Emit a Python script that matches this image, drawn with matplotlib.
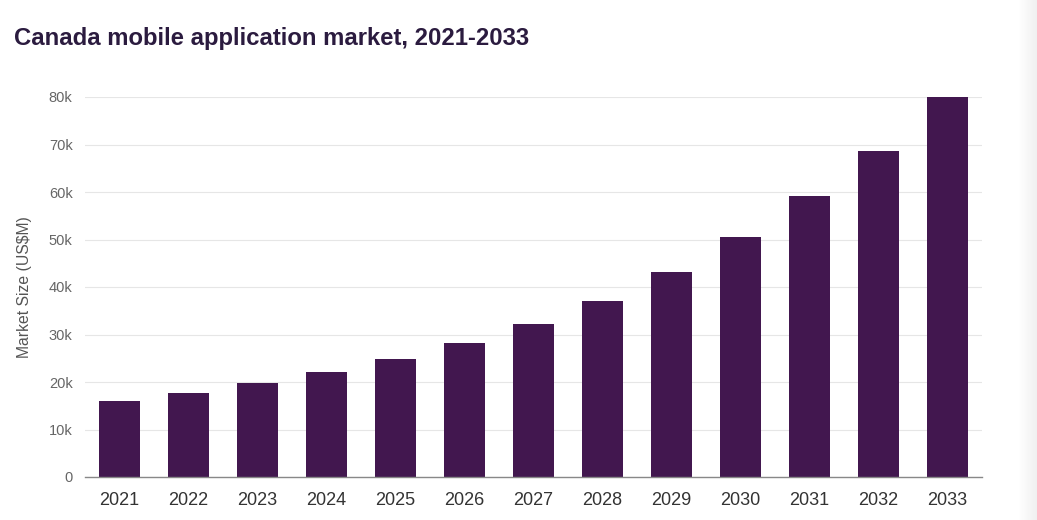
import matplotlib
matplotlib.use("Agg")
import matplotlib.pyplot as plt
import numpy as np

years = ["2021", "2022", "2023", "2024", "2025", "2026", "2027",
         "2028", "2029", "2030", "2031", "2032", "2033"]
market_size = [16000, 17700, 19800, 22100, 24900, 28300, 32300,
               37100, 43200, 50600, 59100, 68600, 80100]
y_ticks = [0, 10000, 20000, 30000, 40000, 50000, 60000, 70000, 80000]
y_tick_labels = ["0", "10k", "20k", "30k", "40k", "50k", "60k", "70k", "80k"]

plt.rcParams['font.family'] = ['Liberation Sans', 'DejaVu Sans']

W, H = 1037, 520
fig = plt.figure(figsize=(W / 100, H / 100), dpi=100)
fig.patch.set_facecolor("white")

# subtle shadow at right edge
sh = fig.add_axes([1018 / W, 0, (W - 1018) / W, 1])
grad = np.linspace(1.0, 0.94, 50).reshape(1, -1)
sh.imshow(grad, aspect="auto", cmap="gray", vmin=0, vmax=1, extent=[0, 1, 0, 1])
sh.axis("off")

ax = fig.add_axes([85 / W, (H - 477) / H, (982 - 85) / W, (477 - 97) / H])
x = np.arange(len(years))
ax.bar(x, market_size, width=0.6, color="#42174f", zorder=3, clip_on=False)

ax.set_xlim(-0.5, len(years) - 0.5)
ax.set_ylim(0, 80000)
ax.set_yticks(y_ticks)
ax.set_yticklabels(y_tick_labels, color="#666666", fontsize=10.5)
ax.set_xticks(x)
ax.set_xticklabels(years, color="#333333", fontsize=13)
ax.tick_params(axis="both", length=0)
ax.tick_params(axis="y", pad=9)
ax.tick_params(axis="x", pad=11)
ax.grid(axis="y", color="#e6e6e6", linewidth=0.8, zorder=0)
for s in ["top", "right", "left"]:
    ax.spines[s].set_visible(False)
ax.spines["bottom"].set_color("#888888")
ax.spines["bottom"].set_linewidth(1.0)
ax.spines["bottom"].set_zorder(4)

ax.set_ylabel("Market Size (US$M)", color="#555555", fontsize=11.3, labelpad=12)

fig.text(14 / W, 1 - 38 / H, "Canada mobile application market, 2021-2033",
         fontsize=17.2, fontweight="bold", color="#2b1b3f", va="center", ha="left")

fig.savefig("out.png", dpi=100, facecolor="white")
